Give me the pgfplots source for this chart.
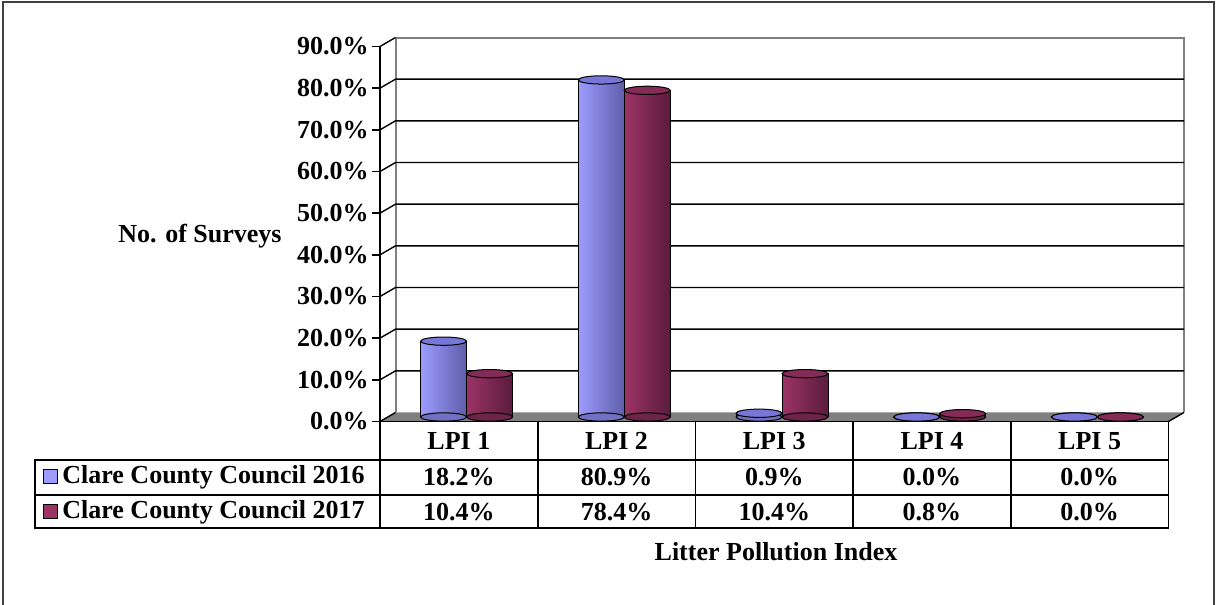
\documentclass[border=0pt]{standalone}
\usepackage{pgfplots}
\usepackage{pgfplotstable}
\pgfplotsset{compat=1.18}
\usepackage{fontspec}
\setmainfont{Liberation Serif}
\definecolor{c16}{HTML}{9C9CFF}
\definecolor{c16d}{HTML}{5E5EAA}
\definecolor{c16t}{HTML}{7777D8}
\definecolor{c17}{HTML}{9C3366}
\definecolor{c17d}{HTML}{5A1C3C}
\definecolor{c17t}{HTML}{842B58}
\definecolor{floorgray}{HTML}{808080}
\pgfplotstableread{
x z v16 v17
0.5 0 18.2 10.4
1.5 0 80.9 78.4
2.5 0 0.9 10.4
3.5 0 0.0 0.8
4.5 0 0.0 0.0
}\datatab
\newcommand{\lfont}{\bfseries\fontsize{13}{15}\selectfont}
\begin{document}
\begin{tikzpicture}[x=0.5pt,y=0.5pt]
\useasboundingbox (0,0) rectangle (1216,605);
\draw[line width=1pt, black!75] (3,-20) -- (3,603) -- (1213.5,603) -- (1213.5,-20);
\begin{axis}[
  at={(190pt,91.75pt)}, anchor=south west,
  scale only axis, width=394.25pt, height=187.5pt,
  xmin=0, xmax=5, ymin=0, ymax=90,
  axis x line=none, axis y line*=left,
  y axis line style={line width=0.8pt},
  xtick=\empty, ytick={0,10,...,90},
  tick align=outside, major tick length=4pt,
  tick style={line width=0.8pt, black},
  yticklabel={\pgfmathprintnumber[fixed,fixed zerofill,precision=1]{\tick}\%},
  /pgf/number format/assume math mode=true,
  yticklabel style={font=\lfont, inner sep=1.5pt},
  clip=false,
]
% back wall and floor
\fill[floorgray] (axis cs:0,0) -- (axis cs:5,0) -- ([shift={(7.75pt,4.5pt)}]axis cs:5,0) -- ([shift={(7.75pt,4.5pt)}]axis cs:0,0) -- cycle;
\draw[black!50, line width=1pt] ([shift={(7.75pt,4.5pt)}]axis cs:0,0) -- ([shift={(7.75pt,4.5pt)}]axis cs:0,90) -- ([shift={(7.75pt,4.5pt)}]axis cs:5,90) -- ([shift={(7.75pt,4.5pt)}]axis cs:5,0);
\pgfplotsinvokeforeach{10,20,...,80}{
  \draw[black, line width=0.7pt] (axis cs:0,#1) -- ([shift={(7.75pt,4.5pt)}]axis cs:0,#1) -- ([shift={(7.75pt,4.5pt)}]axis cs:5,#1);
}
\draw[black, line width=0.7pt] (axis cs:0,90) -- ([shift={(7.75pt,4.5pt)}]axis cs:0,90);
\draw[black, line width=0.7pt] (axis cs:0,0) -- ([shift={(7.75pt,4.5pt)}]axis cs:0,0);
\draw[black, line width=0.7pt] (axis cs:5,0) -- ([shift={(7.75pt,4.5pt)}]axis cs:5,0);
% 2016 cylinders
\addplot[only marks, mark=*, mark size=11.5pt, mark options={yscale=0.18, fill=c16d!70!c16, draw=black, line width=0.5pt}, xshift=-7.625pt, yshift=2.25pt] table[x=x, y=z]{\datatab};
\pgfplotsinvokeforeach{0.4:0.6,1.4:1.6,2.4:2.6,3.4:3.6,4.4:4.6}{
\addplot[ybar, bar width=23pt, bar shift=-7.625pt, yshift=2.25pt, draw=black, line width=0.5pt, left color=c16, right color=c16d, restrict x to domain=#1] table[x=x, y=v16]{\datatab};
}
\addplot[only marks, mark=*, mark size=11.5pt, mark options={yscale=0.18, fill=c16t, draw=black, line width=0.5pt}, xshift=-7.625pt, yshift=2.25pt] table[x=x, y=v16]{\datatab};
% 2017 cylinders
\addplot[only marks, mark=*, mark size=11.5pt, mark options={yscale=0.18, fill=c17d!70!c17, draw=black, line width=0.5pt}, xshift=15.375pt, yshift=2.25pt] table[x=x, y=z]{\datatab};
\pgfplotsinvokeforeach{0.4:0.6,1.4:1.6,2.4:2.6,3.4:3.6,4.4:4.6}{
\addplot[ybar, bar width=23pt, bar shift=15.375pt, yshift=2.25pt, draw=black, line width=0.5pt, left color=c17, right color=c17d, restrict x to domain=#1] table[x=x, y=v17]{\datatab};
}
\addplot[only marks, mark=*, mark size=11.5pt, mark options={yscale=0.18, fill=c17t, draw=black, line width=0.5pt}, xshift=15.375pt, yshift=2.25pt] table[x=x, y=v17]{\datatab};
\end{axis}
% data table
\draw[line width=0.8pt] (380,183.5) -- (1168.5,183.5);
\draw[line width=0.8pt] (35,145) rectangle (1168.5,77);
\draw[line width=0.8pt] (35,110) -- (1168.5,110);
\foreach \xx in {380,537.7,695.4,853.1,1010.8,1168.5} \draw[line width=0.8pt] (\xx,183.5) -- (\xx,77);
\foreach \xx/\lab in {458.85/LPI 1,616.55/LPI 2,774.25/LPI 3,931.95/LPI 4,1089.65/LPI 5}
  \node[font=\lfont] at (\xx,164) {\lab};
\foreach \xx/\va/\vb in {458.85/18.2/10.4,616.55/80.9/78.4,774.25/0.9/10.4,931.95/0.0/0.8,1089.65/0.0/0.0}{
  \node[font=\lfont] at (\xx,128) {\va\%};
  \node[font=\lfont] at (\xx,93) {\vb\%};
}
\draw[fill=c16, line width=0.5pt] (43,121) rectangle (57,135);
\draw[fill=c17, line width=0.5pt] (43,86) rectangle (57,100);
\node[font=\lfont, anchor=west, inner sep=0pt] at (62,128) {Clare County Council 2016};
\node[font=\lfont, anchor=west, inner sep=0pt] at (62,93) {Clare County Council 2017};
\node[font=\lfont, anchor=east, inner sep=0pt] at (282,369) {No. of Surveys};
\node[font=\lfont] at (776,53) {Litter Pollution Index};
\end{tikzpicture}
\end{document}
